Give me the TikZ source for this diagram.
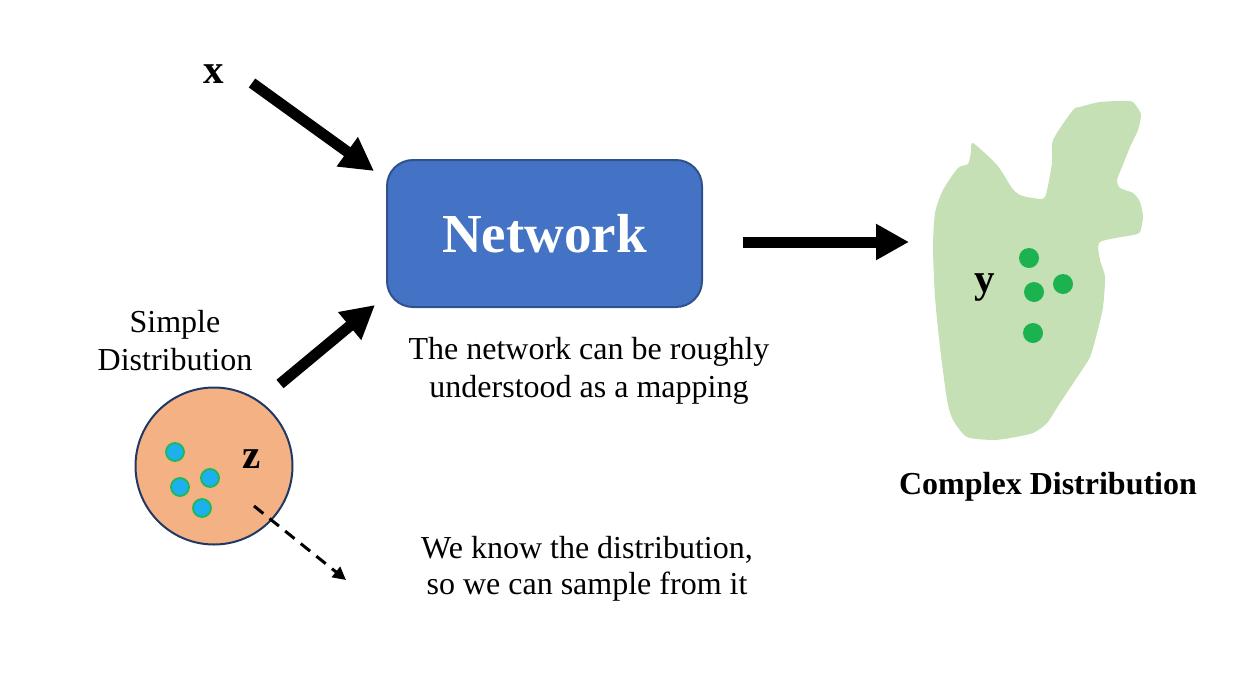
\documentclass[tikz,border=0pt]{standalone}
\usepackage{fontspec}
\setmainfont{Liberation Serif}
\usetikzlibrary{arrows.meta}
\definecolor{netblue}{HTML}{4472C4}
\definecolor{netedge}{HTML}{2F528F}
\definecolor{peach}{HTML}{F4B183}
\definecolor{navy}{HTML}{203864}
\definecolor{cyandot}{HTML}{1CB0EC}
\definecolor{greenedge}{HTML}{1DB954}
\definecolor{blobgreen}{HTML}{C5E0B4}
\definecolor{ydot}{HTML}{1DB250}
\tikzset{
  bigarrow/.style={line width=11pt,-{Triangle[length=33pt,width=34pt]}},
  dasharrow/.style={line width=3pt,dash pattern=on 12pt off 8pt,-{Triangle[length=13pt,width=13pt]}},
  body/.style={font=\fontsize{32}{38}\selectfont,align=center,inner sep=0pt},
  letter/.style={font=\fontsize{41}{44}\selectfont\bfseries,inner sep=0pt},
  zdot/.style={circle,fill=cyandot,draw=greenedge,line width=1.8pt,minimum size=18pt,inner sep=0pt},
  ydotst/.style={circle,fill=ydot,minimum size=20pt,inner sep=0pt},
}
\begin{document}
\begin{tikzpicture}[x=1pt,y=-1pt]
\useasboundingbox (0,0) rectangle (1260,686);
% network box
\node (net) [draw=netedge,line width=2pt,fill=netblue,rounded corners=26pt,minimum width=315pt,minimum height=147pt,
  text=white,font=\fontsize{55}{60}\selectfont\bfseries] at (544.5,233.5) {Network};
% x input
\node (x) [letter] at (214,74) {x};
\coordinate (xs) at (252,83);
\coordinate (xe) at (374,171);
\draw[bigarrow] (xs) -- (xe);
% simple distribution
\node (simple) [body] at (175,341) {Simple\\Distribution};
\node (zc) [circle,draw=navy,line width=2pt,fill=peach,minimum size=157pt,inner sep=0pt] at (214,466) {};
\node (z) [letter] at (252,459) {z};
\node (z1) [zdot] at (175,452) {};
\node (z2) [zdot] at (210,478) {};
\node (z3) [zdot] at (180,487) {};
\node (z4) [zdot] at (202,508) {};
\coordinate (zs) at (280,384);
\coordinate (ze) at (375,305);
\draw[bigarrow] (zs) -- (ze);
\coordinate (ds) at (254,506);
\coordinate (de) at (346,580);
\draw[dasharrow] (ds) -- (de);
% captions
\node (cap1) [body] at (589,371) {The network can be roughly\\understood as a mapping};
\node (cap2) [body,font=\fontsize{32}{36}\selectfont] at (587,569) {We know the distribution,\\so we can sample from it};
% output arrow
\coordinate (os) at (743,242);
\coordinate (oe) at (909,242);
\draw[bigarrow] (os) -- (oe);
% blob
\fill[blobgreen] plot[smooth cycle,tension=0.4] coordinates {
(973,143) (997,165) (1012,188) (1020,195) (1033,198) (1045,197) (1052,163) (1053,140)
(1073,110) (1080,107) (1100,102) (1130,101) (1137,107) (1141,115) (1138,130) (1130,147)
(1122,167) (1117,180) (1120,188) (1133,193) (1140,202) (1143,217) (1140,232) (1133,235)
(1100,242) (1100,260) (1105,277) (1103,307) (1097,333) (1090,357) (1080,373) (1060,403)
(1047,423) (1033,433) (1010,438) (993,440) (967,437) (953,420) (947,400) (940,347)
(935,297) (933,247) (935,213) (943,190) (958,168) (968,164) (971,152)};
\node (y) [letter] at (985,288) {y};
\node (y1) [ydotst] at (1029,258) {};
\node (y2) [ydotst] at (1034,292) {};
\node (y3) [ydotst] at (1063,284) {};
\node (y4) [ydotst] at (1033,333) {};
\node (complex) [body,font=\fontsize{32}{38}\selectfont\bfseries] at (1048,487) {Complex Distribution};
\end{tikzpicture}
\end{document}
